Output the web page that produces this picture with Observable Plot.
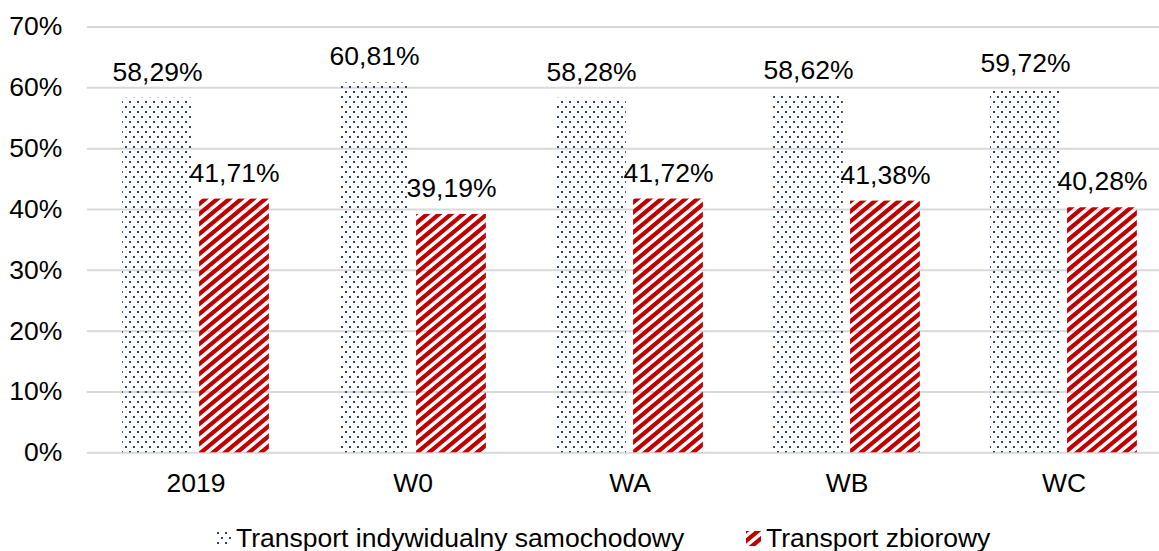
<!DOCTYPE html>
<html>
<head>
<meta charset="utf-8">
<script src="https://cdn.jsdelivr.net/npm/d3@7"></script>
<script src="https://cdn.jsdelivr.net/npm/@observablehq/plot@0.6"></script>
<style>
  html, body { margin: 0; padding: 0; background: #fff; overflow: hidden; }
  body { width: 1159px; height: 551px; font-family: "Liberation Sans", Arial, sans-serif; }
  #legend { position: relative; height: 40px; line-height: 40px; font-size: 26.5px; color: #000; white-space: nowrap; }
  #legend .item { position: absolute; top: 0; display: flex; align-items: center; height: 40px; }
  #legend svg { margin-right: 5px; }
</style>
</head>
<body>
<svg width="0" height="0" style="position:absolute">
  <defs>
    <pattern id="dots" patternUnits="userSpaceOnUse" width="8" height="10">
      <rect x="1" y="1" width="2" height="2" fill="#2A4576"></rect>
      <rect x="5" y="6" width="2" height="2" fill="#2A4576"></rect>
    </pattern>
    <pattern id="stripes" patternUnits="userSpaceOnUse" width="12" height="10">
      <path d="M-6,5 L6,-5 M-6,15 L18,-5 M6,15 L18,5" stroke="#C00000" stroke-width="4.2" fill="none"></path>
    </pattern>
  </defs>
</svg>
<div id="chart"></div>
<div id="legend"></div>
<script>
const categories = ["2019", "W0", "WA", "WB", "WC"];
const seriesNames = ["Transport indywidualny samochodowy", "Transport zbiorowy"];
const individual = [58.29, 60.81, 58.28, 58.62, 59.72];
const collective = [41.71, 39.19, 41.72, 41.38, 40.28];
const yTicks = [0, 10, 20, 30, 40, 50, 60, 70];

const indData = categories.map((c, i) => ({category: c, value: individual[i]}));
const colData = categories.map((c, i) => ({category: c, value: collective[i]}));
const fmt = v => v.toFixed(2).replace(".", ",") + "%";

const bandW = (1173.1 - 86.9) / categories.length;

const plot = Plot.plot({
  width: 1159,
  height: 518,
  marginLeft: 86.9,
  marginRight: 0,
  marginTop: 26.5,
  marginBottom: 65.7,
  style: {fontFamily: "'Liberation Sans', Arial, sans-serif", fontSize: "26.5px", color: "#000", background: "#fff"},
  x: {domain: categories, range: [86.9, 1173.1], padding: 0, label: null, tickSize: 0, tickPadding: 20},
  y: {domain: [0, 70], ticks: yTicks, tickFormat: d => d + "%", label: null, tickSize: 0, tickPadding: 25},
  marks: [
    Plot.gridY(yTicks, {stroke: "#d9d9d9", strokeOpacity: 1, strokeWidth: 2}),
    Plot.barY(indData, {x: "category", y: "value", fill: "url(#dots)", insetLeft: 35.1, insetRight: bandW - 105.1}),
    Plot.barY(colData, {x: "category", y: "value", fill: "url(#stripes)", insetLeft: 112.1, insetRight: bandW - 182.1}),
    Plot.text(indData, {x: "category", y: "value", text: d => fmt(d.value), dx: -38.5, dy: -17.5, lineAnchor: "bottom", fill: "#000", fontSize: 26.5}),
    Plot.text(colData, {x: "category", y: "value", text: d => fmt(d.value), dx: 38.5, dy: -17.5, lineAnchor: "bottom", fill: "#000", fontSize: 26.5})
  ]
});
document.getElementById("chart").appendChild(plot);

const legend = document.getElementById("legend");
const items = [
  {name: seriesNames[0], fill: "url(#dots)", left: 216},
  {name: seriesNames[1], fill: "url(#stripes)", left: 746}
];
for (const it of items) {
  const div = document.createElement("div");
  div.className = "item";
  div.style.left = it.left + "px";
  div.innerHTML = `<svg width="15" height="15"><rect width="15" height="15" fill="${it.fill}"></rect></svg><span>${it.name}</span>`;
  legend.appendChild(div);
}
</script>
</body>
</html>
